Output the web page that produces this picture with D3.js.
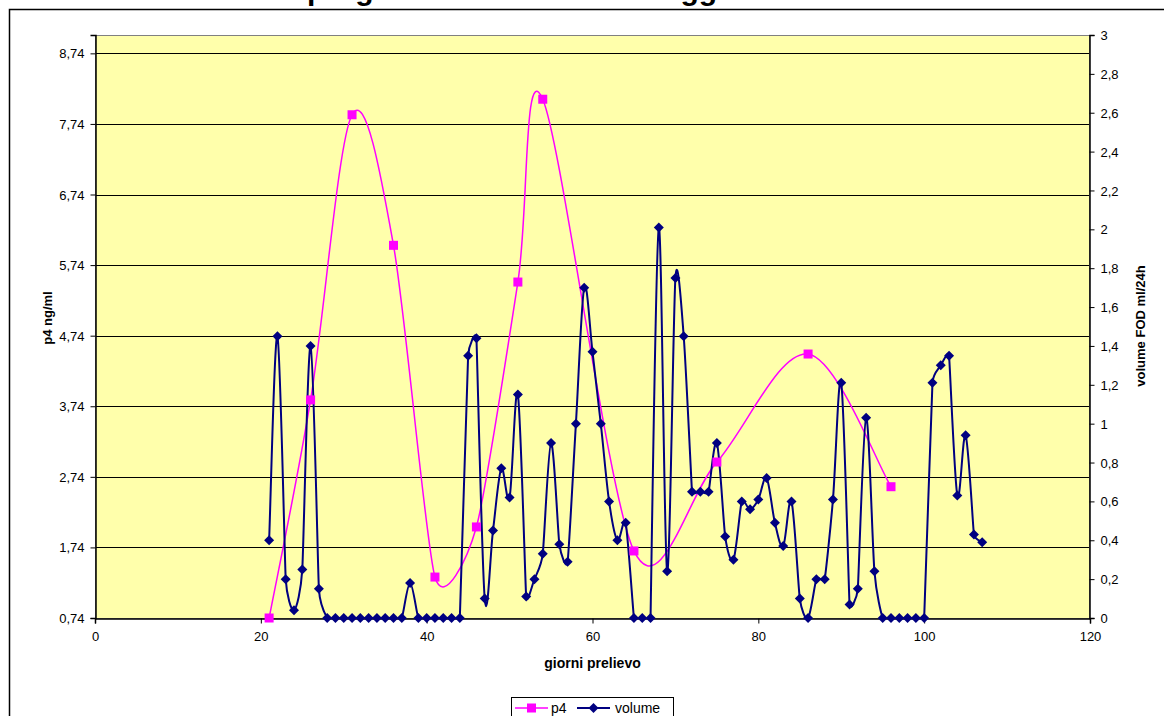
<!DOCTYPE html>
<html>
<head>
<meta charset="utf-8">
<script src="https://cdn.jsdelivr.net/npm/d3@7"></script>
<style>
  html, body { margin: 0; padding: 0; background: #ffffff; }
  svg { display: block; font-family: "Liberation Sans", Arial, sans-serif; }
</style>
</head>
<body>
<svg id="chart" width="1164" height="716"></svg>
<script>
// Sampling days and measurements
const p4Days = [21, 26, 31, 36, 41, 46, 51, 54, 65, 75, 86, 96];
const p4Values = [0.74, 3.83, 7.87, 6.02, 1.32, 2.03, 5.50, 8.09, 1.69, 2.95, 4.48, 2.60];

const volumeDays = [
  21, 22, 23, 24, 25, 26, 27, 28, 29, 30, 31, 32, 33, 34, 35, 36, 37, 38, 39, 40,
  41, 42, 43, 44, 45, 46, 47, 48, 49, 50, 51, 52, 53, 54, 55, 56, 57, 58, 59, 60,
  61, 62, 63, 64, 65, 66, 67, 68, 69, 70, 71, 72, 73, 74, 75, 76, 77, 78, 79, 80,
  81, 82, 83, 84, 85, 86, 87, 88, 89, 90, 91, 92, 93, 94, 95, 96, 97, 98, 99, 100,
  101, 102, 103, 104, 105, 106, 107
];
const volumeValues = [
  0.40, 1.45, 0.20, 0.04, 0.25, 1.40, 0.15, 0, 0, 0, 0, 0, 0, 0, 0, 0, 0, 0.18, 0, 0,
  0, 0, 0, 0, 1.35, 1.44, 0.10, 0.45, 0.77, 0.62, 1.15, 0.11, 0.20, 0.33, 0.90, 0.38, 0.29, 1.00, 1.70, 1.37,
  1.00, 0.60, 0.40, 0.49, 0, 0, 0, 2.01, 0.24, 1.75, 1.45, 0.65, 0.65, 0.65, 0.90, 0.42, 0.30, 0.60, 0.56, 0.61,
  0.72, 0.49, 0.37, 0.60, 0.10, 0, 0.20, 0.20, 0.61, 1.21, 0.07, 0.15, 1.03, 0.24, 0, 0, 0, 0, 0, 0,
  1.21, 1.30, 1.35, 0.63, 0.94, 0.43, 0.39
];

// Axis ticks
const xTicks = [0, 20, 40, 60, 80, 100, 120];
const leftTicks = [0.74, 1.74, 2.74, 3.74, 4.74, 5.74, 6.74, 7.74, 8.74];
const rightTicks = [0, 0.2, 0.4, 0.6, 0.8, 1, 1.2, 1.4, 1.6, 1.8, 2, 2.2, 2.4, 2.6, 2.8, 3];

const titleText = "progesterone e volume soggetto";
const xTitle = "giorni prelievo";
const leftTitle = "p4 ng/ml";
const rightTitle = "volume FOD ml/24h";
const seriesNames = ["p4", "volume"];

const P4_COLOR = "#ff00ff";
const VOL_COLOR = "#000080";

const svg = d3.select("#chart");
const plot = { left: 95, right: 1090, top: 35, bottom: 618 };

const x = d3.scaleLinear().domain([0, 120]).range([plot.left, plot.right]);
const yL = d3.scaleLinear().domain([0.74, 9.0]).range([plot.bottom, plot.top]);
const yR = d3.scaleLinear().domain([0, 3]).range([plot.bottom, plot.top]);

const comma = v => String(+v.toFixed(2)).replace(".", ",");
const commaFixed = v => v.toFixed(2).replace(".", ",");

// Smoothed polyline: cubic Bezier through the points, tangent = (next - prev) / 6,
// shortened where a neighbouring segment is short so peaks do not overshoot much.
function smoothPath(pts) {
  const p = d3.path();
  if (!pts.length) return "";
  const n = pts.length;
  const dist = (a, b) => Math.hypot(b[0] - a[0], b[1] - a[1]);
  const tangent = i => {
    const prev = pts[Math.max(0, i - 1)];
    const next = pts[Math.min(n - 1, i + 1)];
    const t = [next[0] - prev[0], next[1] - prev[1]];
    const d02 = Math.hypot(t[0], t[1]);
    if (d02 === 0) return [0, 0];
    const dPrev = i > 0 ? dist(pts[i - 1], pts[i]) : Infinity;
    const dNext = i < n - 1 ? dist(pts[i], pts[i + 1]) : Infinity;
    let f = 1 / 6;
    const lim = Math.min(dPrev, dNext) / 2;
    if (d02 * f > lim) f = lim / d02;
    return [t[0] * f, t[1] * f];
  };
  const tans = pts.map((_, i) => tangent(i));
  p.moveTo(pts[0][0], pts[0][1]);
  for (let i = 0; i < n - 1; i++) {
    const a = pts[i], b = pts[i + 1];
    p.bezierCurveTo(a[0] + tans[i][0], a[1] + tans[i][1],
                    b[0] - tans[i + 1][0], b[1] - tans[i + 1][1],
                    b[0], b[1]);
  }
  return p.toString();
}

// Outer chart frame (runs past the page edge); the title sits above it, mostly off the page
svg.append("rect")
  .attr("x", 9.5).attr("y", 9.5)
  .attr("width", 1200).attr("height", 800)
  .attr("fill", "#ffffff").attr("stroke", "#000000").attr("stroke-width", 1.5);

svg.append("text")
  .attr("x", 307).attr("y", 0)
  .attr("font-size", 30).attr("font-weight", "bold")
  .attr("fill", "#000000")
  .text(titleText);

// Plot background
const defs = svg.append("defs");
defs.append("clipPath").attr("id", "plotClip")
  .append("rect")
  .attr("x", plot.left).attr("y", plot.top)
  .attr("width", plot.right - plot.left).attr("height", plot.bottom - plot.top);

svg.append("rect")
  .attr("x", plot.left).attr("y", plot.top)
  .attr("width", plot.right - plot.left).attr("height", plot.bottom - plot.top)
  .attr("fill", "#ffffab");

// Horizontal gridlines from the left axis
svg.append("g")
  .selectAll("line")
  .data(leftTicks.slice(1))
  .join("line")
  .attr("x1", plot.left).attr("x2", plot.right)
  .attr("y1", d => Math.round(yL(d)) + 0.5).attr("y2", d => Math.round(yL(d)) + 0.5)
  .attr("stroke", "#000000").attr("stroke-width", 1);

// Plot border
svg.append("rect")
  .attr("x", plot.left + 0.5).attr("y", plot.top + 0.5)
  .attr("width", plot.right - plot.left - 1).attr("height", plot.bottom - plot.top)
  .attr("fill", "none").attr("stroke", "#808080").attr("stroke-width", 1);

// Axes
const axisFont = 13;
const xAxis = svg.append("g")
  .attr("transform", `translate(0,${plot.bottom + 0.5})`)
  .call(d3.axisBottom(x).tickValues(xTicks).tickSize(5).tickPadding(8).tickFormat(d3.format("d")));
const leftAxis = svg.append("g")
  .attr("transform", `translate(${plot.left + 0.5},0)`)
  .call(d3.axisLeft(yL).tickValues(leftTicks).tickSize(5).tickPadding(6).tickFormat(commaFixed));
const rightAxis = svg.append("g")
  .attr("transform", `translate(${plot.right - 0.5},0)`)
  .call(d3.axisRight(yR).tickValues(rightTicks).tickSize(5).tickPadding(6).tickFormat(comma));

[xAxis, leftAxis, rightAxis].forEach(g => {
  g.selectAll("path.domain").attr("stroke", "#000000").attr("stroke-width", 1.5);
  g.selectAll(".tick line").attr("stroke", "#000000");
  g.selectAll(".tick text")
    .attr("font-size", axisFont)
    .attr("font-family", "Liberation Sans, Arial, sans-serif")
    .attr("fill", "#000000");
});
leftAxis.selectAll(".tick text").attr("dy", "0.35em");
rightAxis.selectAll(".tick text").attr("dy", "0.35em");

// Axis titles
svg.append("text")
  .attr("x", (plot.left + plot.right) / 2).attr("y", 668)
  .attr("text-anchor", "middle")
  .attr("font-size", 14).attr("font-weight", "bold")
  .text(xTitle);

svg.append("text")
  .attr("transform", `translate(52,318) rotate(-90)`)
  .attr("text-anchor", "middle")
  .attr("font-size", 13).attr("font-weight", "bold")
  .text(leftTitle);

svg.append("text")
  .attr("transform", `translate(1145,326) rotate(-90)`)
  .attr("text-anchor", "middle")
  .attr("font-size", 13).attr("font-weight", "bold")
  .text(rightTitle);

// Series
const series = svg.append("g").attr("clip-path", "url(#plotClip)");

const p4Data = p4Days.map((d, i) => ({ x: d, y: p4Values[i] }));
const volData = volumeDays.map((d, i) => ({ x: d, y: volumeValues[i] }));

series.append("path")
  .attr("fill", "none").attr("stroke", P4_COLOR).attr("stroke-width", 1.5)
  .attr("d", smoothPath(p4Data.map(d => [x(d.x), yL(d.y)])));

const markers = svg.append("g");
markers.selectAll("rect.p4")
  .data(p4Data)
  .join("rect")
  .attr("class", "p4")
  .attr("x", d => x(d.x) - 4.5).attr("y", d => yL(d.y) - 4.5)
  .attr("width", 9).attr("height", 9)
  .attr("fill", P4_COLOR);

series.append("path")
  .attr("fill", "none").attr("stroke", VOL_COLOR).attr("stroke-width", 2)
  .attr("d", smoothPath(volData.map(d => [x(d.x), yR(d.y)])));

const diamond = "M0,-5L5,0L0,5L-5,0Z";
markers.selectAll("path.vol")
  .data(volData)
  .join("path")
  .attr("class", "vol")
  .attr("transform", d => `translate(${x(d.x)},${yR(d.y)})`)
  .attr("d", diamond)
  .attr("fill", VOL_COLOR);

// Legend
const legend = svg.append("g");
legend.append("rect")
  .attr("x", 511.5).attr("y", 697.5)
  .attr("width", 162).attr("height", 40)
  .attr("fill", "#ffffff").attr("stroke", "#000000").attr("stroke-width", 1);

const legendItems = [
  { name: seriesNames[0], color: P4_COLOR, x0: 515, shape: "square", tx: 551 },
  { name: seriesNames[1], color: VOL_COLOR, x0: 577, shape: "diamond", tx: 615 }
];
const ly = 708;
legendItems.forEach(it => {
  legend.append("line")
    .attr("x1", it.x0).attr("x2", it.x0 + 33)
    .attr("y1", ly).attr("y2", ly)
    .attr("stroke", it.color).attr("stroke-width", it.shape === "square" ? 1.5 : 2);
  if (it.shape === "square") {
    legend.append("rect")
      .attr("x", it.x0 + 16.5 - 4.5).attr("y", ly - 4.5)
      .attr("width", 9).attr("height", 9).attr("fill", it.color);
  } else {
    legend.append("path")
      .attr("transform", `translate(${it.x0 + 16.5},${ly})`)
      .attr("d", diamond).attr("fill", it.color);
  }
  legend.append("text")
    .attr("x", it.tx).attr("y", ly + 5)
    .attr("font-size", 14)
    .text(it.name);
});
</script>
</body>
</html>
